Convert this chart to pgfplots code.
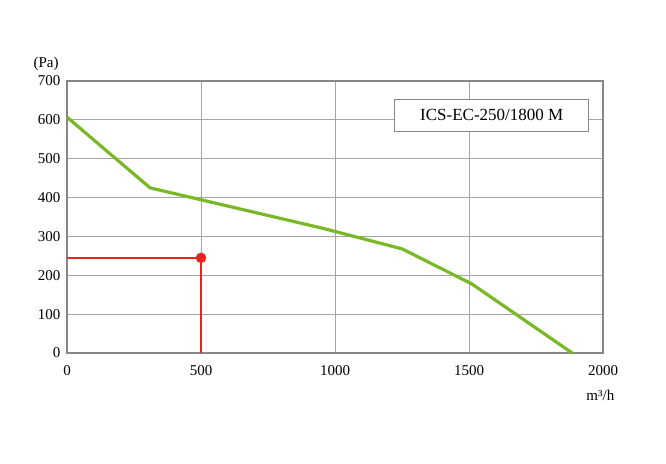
\documentclass[border=0pt]{standalone}
\usepackage{pgfplots}
\pgfplotsset{compat=1.18}
\usepackage{fontspec}
\setmainfont{Liberation Serif}
\definecolor{grn}{RGB}{122,184,40}
\definecolor{rd}{RGB}{230,36,36}
\definecolor{gridc}{RGB}{165,165,165}
\definecolor{axc}{RGB}{135,135,135}
\begin{document}
\begin{tikzpicture}
\useasboundingbox (0pt,0pt) rectangle (666pt,463pt);
\begin{axis}[
  at={(67pt,110pt)}, anchor=south west,
  scale only axis, width=536pt, height=272pt,
  xmin=0, xmax=2000, ymin=0, ymax=700,
  xtick={0,500,1000,1500,2000},
  ytick={0,100,200,300,400,500,600,700},
  grid=major,
  major grid style={gridc, line width=0.8pt},
  axis line style={axc, line width=1.2pt},
  tick style={draw=none},
  /pgf/number format/assume math mode=true,
  /pgf/number format/set thousands separator={},
  tick label style={font=\fontsize{15}{17}\selectfont},
  xticklabel style={yshift=-9pt},
  yticklabel style={xshift=-3pt},
  clip=false,
]
\addplot[grn, line width=3.2pt, line join=round] coordinates {
  (0,607) (310,425) (960,320) (1250,268) (1510,178) (1885,0)
};
\addplot[rd, line width=2.2pt] coordinates {(0,245) (500,245)};
\addplot[rd, line width=2.2pt] coordinates {(500,245) (500,0)};
\addplot[rd, only marks, mark=*, mark size=5pt] coordinates {(500,245)};
\node[draw=axc, line width=1pt, fill=white, minimum width=194pt, minimum height=32pt, font=\fontsize{17}{19}\selectfont]
  at (axis cs:1585,612) {ICS-EC-250/1800 M};
\node[font=\fontsize{15}{17}\selectfont] at (axis cs:-78,744) {(Pa)};
\node[font=\fontsize{15}{17}\selectfont] at (axis cs:1990,-110) {m³/h};
\end{axis}
\end{tikzpicture}
\end{document}
